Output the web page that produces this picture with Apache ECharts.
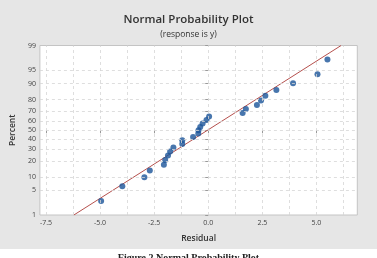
<!DOCTYPE html>
<html>
<head>
<meta charset="utf-8">
<script src="https://cdn.jsdelivr.net/npm/echarts@6/dist/echarts.min.js"></script>
<style>html,body{margin:0;padding:0;background:#fff}#c{width:377px;height:258px}</style>
</head>
<body>
<div id="c"></div>
<script>
// Residuals (sorted) and their plotted percent
const residuals = [-4.95, -3.97, -2.95, -2.70, -2.05, -1.99, -1.86, -1.76, -1.61, -1.20, -1.20, -0.70, -0.46, -0.45, -0.37, -0.26, -0.08, 0.04, 1.59, 1.74, 2.25, 2.44, 2.64, 3.15, 3.92, 5.05, 5.51];
const percents = [2.6, 6.2, 9.9, 13.5, 17.2, 20.8, 24.5, 28.1, 31.8, 35.4, 39.1, 42.7, 46.4, 50.0, 53.6, 57.3, 61.0, 64.6, 68.2, 71.9, 75.5, 79.2, 82.8, 86.5, 90.1, 93.8, 97.4];
// Fitted normal line end points [residual, percent]
const fitLine = [[-6.21, 1], [6.14, 99]];
// Tick labels
const yTickPercents = [1, 5, 10, 20, 30, 40, 50, 60, 70, 80, 90, 95, 99];
const xTickLabels = [-7.5, -5.0, -2.5, 0.0, 2.5, 5.0];
const xGridValues = [-7.5, -6.25, -5.0, -3.75, -2.5, -1.25, 0.0, 1.25, 2.5, 3.75, 5.0, 6.25];

// inverse standard normal CDF (Acklam) – probability axis transform
function normInv(p) {
  const a = [-3.969683028665376e+01, 2.209460984245205e+02, -2.759285104469687e+02, 1.383577518672690e+02, -3.066479806614716e+01, 2.506628277459239e+00];
  const b = [-5.447609879822406e+01, 1.615858368580409e+02, -1.556989798598866e+02, 6.680131188771972e+01, -1.328068155288572e+01];
  const c = [-7.784894002430293e-03, -3.223964580411365e-01, -2.400758277161838e+00, -2.549732539343734e+00, 4.374664141464968e+00, 2.938163982698783e+00];
  const d = [7.784695709041462e-03, 3.224671290700398e-01, 2.445134137142996e+00, 3.754408661907416e+00];
  const pl = 0.02425, ph = 1 - pl;
  let q, r;
  if (p < pl) { q = Math.sqrt(-2 * Math.log(p)); return (((((c[0]*q+c[1])*q+c[2])*q+c[3])*q+c[4])*q+c[5]) / ((((d[0]*q+d[1])*q+d[2])*q+d[3])*q+1); }
  if (p <= ph) { q = p - 0.5; r = q*q; return (((((a[0]*r+a[1])*r+a[2])*r+a[3])*r+a[4])*r+a[5])*q / (((((b[0]*r+b[1])*r+b[2])*r+b[3])*r+b[4])*r+1); }
  q = Math.sqrt(-2 * Math.log(1 - p)); return -(((((c[0]*q+c[1])*q+c[2])*q+c[3])*q+c[4])*q+c[5]) / ((((d[0]*q+d[1])*q+d[2])*q+d[3])*q+1);
}
const z = pc => normInv(pc / 100);
const yTickZ = yTickPercents.map(z);
const zMin = z(1), zMax = z(99);

const pts = residuals.map((r, i) => [r, z(percents[i])]);
const linePts = fitLine.map(p => [p[0], z(p[1])]);

const FONT = '"Open Sans", "Noto Sans", sans-serif';
const gridLineStyle = { color: '#d6d6d6', width: 0.8, type: [3, 3] };

const chart = echarts.init(document.getElementById('c'), null, { renderer: 'canvas' });
chart.setOption({
  backgroundColor: '#e6e6e6',
  animation: false,
  textStyle: { fontFamily: FONT },
  title: {
    text: 'Normal Probability Plot',
    subtext: '(response is y)',
    left: 'center', top: 9, itemGap: 4,
    textStyle: { fontSize: 11.5, fontWeight: 600, color: '#333', fontFamily: FONT },
    subtextStyle: { fontSize: 8.5, fontWeight: 500, color: '#333', fontFamily: FONT }
  },
  graphic: [
    { type: 'rect', left: 0, top: 249, shape: { width: 377, height: 9 }, style: { fill: '#ffffff' }, z: -10 },
    { type: 'text', left: 'center', top: 253.5, style: { text: 'Figure 2 Normal Probability Plot', font: 'bold 10px "Liberation Serif", serif', fill: '#222' } }
  ],
  grid: { left: 34.5, right: 19.7, top: 45.5, bottom: 43, show: true, backgroundColor: '#ffffff', borderColor: '#c4c4c4', borderWidth: 1 },
  xAxis: {
    type: 'value', min: -7.78, max: 6.89,
    name: 'Residual', nameLocation: 'middle', nameGap: 19,
    nameTextStyle: { fontSize: 8.5, fontWeight: 600, color: '#333' },
    axisLine: { show: false },
    axisTick: { show: true, customValues: xTickLabels, length: 3, lineStyle: { color: '#999' } },
    axisLabel: { customValues: xTickLabels, fontSize: 7, color: '#444', margin: 4, formatter: v => v.toFixed(1) },
    splitLine: { show: false }
  },
  yAxis: {
    type: 'value', min: zMin, max: zMax,
    name: 'Percent', nameLocation: 'middle', nameGap: 19,
    nameTextStyle: { fontSize: 8.5, fontWeight: 600, color: '#333' },
    axisLine: { show: false },
    axisTick: { show: true, customValues: yTickZ, length: 3, lineStyle: { color: '#999' } },
    axisLabel: {
      customValues: yTickZ, fontSize: 7, color: '#444', margin: 4,
      formatter: v => {
        let best = yTickPercents[0], bd = Infinity;
        yTickPercents.forEach(p => { const d = Math.abs(z(p) - v); if (d < bd) { bd = d; best = p; } });
        return String(best);
      }
    },
    splitLine: { show: false }
  },
  series: [
    {
      type: 'line', data: [], silent: true, z: 1,
      markLine: {
        silent: true, symbol: 'none', animation: false,
        label: { show: false },
        lineStyle: gridLineStyle,
        data: xGridValues.map(v => ({ xAxis: v })).concat(yTickZ.slice(1, -1).map(v => ({ yAxis: v })))
      }
    },
    {
      type: 'line', data: linePts, symbol: 'none', z: 3,
      lineStyle: { color: '#b5504d', width: 1 }
    },
    {
      type: 'scatter', data: pts, symbol: 'circle', symbolSize: 6, z: 4,
      itemStyle: { color: '#1a5499' }
    }
  ]
});
</script>
</body>
</html>
